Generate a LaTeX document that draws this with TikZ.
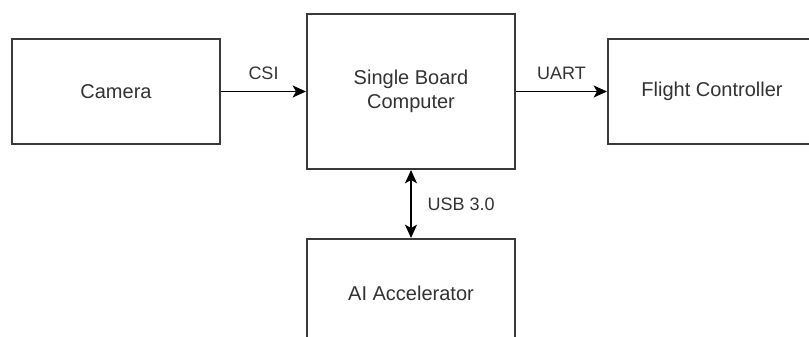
\documentclass[tikz,border=0pt]{standalone}
\usepackage{fontspec}
\setmainfont{Liberation Sans}
\usetikzlibrary{arrows.meta}
\definecolor{boxline}{HTML}{3A3A3A}
\definecolor{txt}{HTML}{333333}
\tikzset{tip/.tip={Stealth[length=10pt,width=9pt,inset=2.5pt]}}
\begin{document}
\begin{tikzpicture}[x=0.75pt,y=-0.75pt,
  blk/.style={draw=boxline,line width=1.5pt,fill=white,minimum width=156pt,text=txt,
    font=\fontsize{15}{18}\selectfont,align=center,inner sep=0pt},
  conn/.style={draw=black,line width=1.1pt,-tip},
  lbl/.style={text=txt,font=\fontsize{13.5}{16}\selectfont,inner sep=0pt}]
\useasboundingbox (0,0) rectangle (809,336);
\clip (0,0) rectangle (809,336);
\node[blk,minimum height=78.75pt] (cam) at (116,91.5) {Camera};
\node[blk,minimum height=116.25pt] (sbc) at (411,91.5) {Single Board\\Computer};
\node[blk,minimum height=78.75pt] (fc) at (712,91.5) {Flight Controller};
\node[blk,minimum height=81pt] (ai) at (411,293) {AI Accelerator};
\draw[conn] (cam.east) -- (sbc.west) node[lbl,midway,above=8pt] {CSI};
\draw[conn] (sbc.east) -- (fc.west) node[lbl,midway,above=8pt] {UART};
\draw[conn,tip-tip] (sbc.south) -- (ai.north) node[lbl,midway,right=12pt] {USB 3.0};
\end{tikzpicture}
\end{document}
